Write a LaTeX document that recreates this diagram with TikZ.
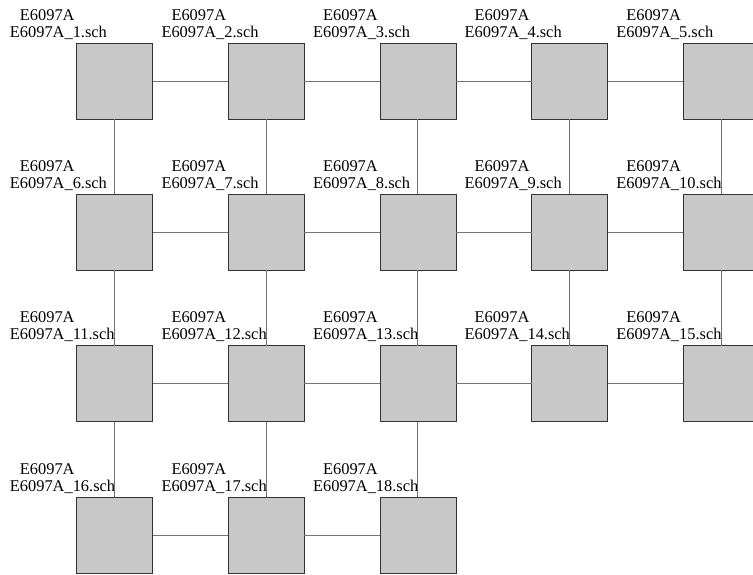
\documentclass[tikz,border=0pt]{standalone}
\usepackage{fontspec}
\setmainfont{Liberation Serif}
\usetikzlibrary{positioning}
\definecolor{sheetfill}{HTML}{C8C8C8}
\definecolor{sheetline}{HTML}{333333}
\definecolor{wirecol}{HTML}{737373}
\tikzset{
    sheet/.style={draw=sheetline,fill=sheetfill,minimum size=76pt,inner sep=0pt,outer sep=0pt,line width=0.8pt},
    wire/.style={draw=wirecol,line width=1pt},
    lbl/.style={anchor=base west,inner sep=0pt,font=\fontsize{16.4}{17}\selectfont},
}

\begin{document}
\begin{tikzpicture}[x=1pt,y=-1pt]
\useasboundingbox (0,0) rectangle (753,574);
% sheets with their two-line captions
\foreach \r in {0,...,3}
  \foreach \c in {1,...,5} {
    \pgfmathtruncatemacro\n{5*\r+\c}
    \ifnum\n<19
      \node[sheet,anchor=north west] (b\n) at ({76.7+151.6*(\c-1)},{43+151.4*\r}) {};
      \node[lbl] (ta\n) at ([xshift=-57pt,yshift=23pt]b\n.north west) {E6097A};
      \node[lbl] (tb\n) at ([xshift=-67pt,yshift=6pt]b\n.north west) {E6097A\_\n.sch};
    \fi
  }
% links in each row
\foreach \a [evaluate=\a as \b using int(\a+1)] in {1,2,3,4,6,7,8,9,11,12,13,14,16,17}
  \draw[wire] (b\a.east) -- (b\b.west);
% links in each column
\foreach \a [evaluate=\a as \b using int(\a+5)] in {1,...,13}
  \draw[wire] (b\a.south) -- (b\b.north);
\end{tikzpicture}
\end{document}
